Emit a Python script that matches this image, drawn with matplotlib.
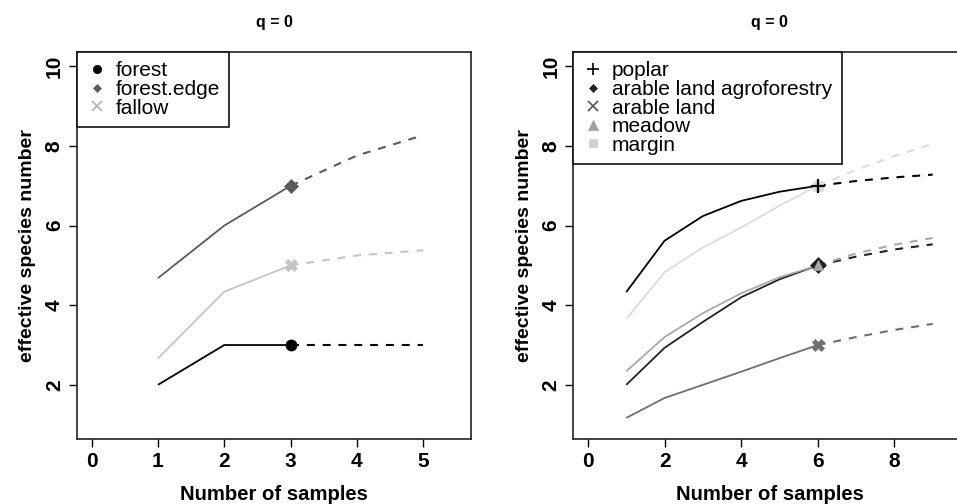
import matplotlib
matplotlib.use("Agg")
import matplotlib.pyplot as plt
from matplotlib.lines import Line2D

plt.rcParams['font.family'] = ['Liberation Sans', 'DejaVu Sans']

# ---------------- data ----------------
# left panel
left_names = ["forest", "forest.edge", "fallow"]
left_x_obs = [1, 2, 3]
left_x_ext = [3, 4, 5]
forest_obs = [2.0, 3.0, 3.0]
forest_ext = [3.0, 3.0, 3.0]
edge_obs = [4.68, 6.0, 7.0]
edge_ext = [7.0, 7.76, 8.27]
fallow_obs = [2.66, 4.34, 5.0]
fallow_ext = [5.0, 5.25, 5.38]

# right panel
right_names = ["poplar", "arable land agroforestry", "arable land", "meadow", "margin"]
right_x_obs = [1, 2, 3, 4, 5, 6]
right_x_ext = [6, 7, 8, 9]
poplar_obs = [4.33, 5.62, 6.24, 6.62, 6.85, 7.0]
poplar_ext = [7.0, 7.12, 7.21, 7.28]
agro_obs = [2.0, 2.93, 3.58, 4.2, 4.65, 5.0]
agro_ext = [5.0, 5.22, 5.4, 5.53]
arable_obs = [1.17, 1.67, 2.0, 2.33, 2.67, 3.0]
arable_ext = [3.0, 3.2, 3.38, 3.53]
meadow_obs = [2.34, 3.2, 3.8, 4.3, 4.7, 5.0]
meadow_ext = [5.0, 5.3, 5.52, 5.69]
margin_obs = [3.65, 4.83, 5.45, 5.95, 6.5, 7.0]
margin_ext = [7.0, 7.4, 7.75, 8.05]

x_ticks_left = [0, 1, 2, 3, 4, 5]
x_ticks_right = [0, 2, 4, 6, 8]
y_ticks = [2, 4, 6, 8, 10]

# ---------------- styles ----------------
# (obs, ext, colour, marker, marker size, marker zorder)
left_series = [
    (forest_obs, forest_ext, "#000000", "o", 8, 3),
    (edge_obs, edge_ext, "#5a5a5a", "D", 7, 3),
    (fallow_obs, fallow_ext, "#c4c4c4", "X", 9, 3),
]
right_series = [
    (poplar_obs, poplar_ext, "#000000", "+", 10, 3.5),
    (agro_obs, agro_ext, "#222222", "D", 8.5, 3),
    (arable_obs, arable_ext, "#6e6e6e", "X", 9, 3),
    (meadow_obs, meadow_ext, "#a8a8a8", "^", 6.5, 3.2),
    (margin_obs, margin_ext, "#dcdcdc", "s", 7, 3),
]
left_leg_markers = [("o", "#000000", 6), ("D", "#5a5a5a", 4.5), ("x", "#b0b0b0", 7)]
right_leg_markers = [("+", "#000000", 9), ("D", "#222222", 4.5), ("x", "#555555", 7),
                     ("^", "#a0a0a0", 6.5), ("s", "#d0d0d0", 5.5)]

W, H = 957, 504
fig = plt.figure(figsize=(W / 100, H / 100), dpi=100)

def px_axes(x0, x1, y0, y1):
    return fig.add_axes([x0 / W, 1 - y1 / H, (x1 - x0) / W, (y1 - y0) / H])

axL = px_axes(77, 471, 52, 439)
axR = px_axes(573.4, 966.4, 52, 439)

lw = 1.3
dash = (0, (3.8, 3.8))

def draw(ax, xobs, xext, series, xlim, xticks, names, legmarkers):
    for obs, ext, col, mk, ms, z in series:
        ax.plot(xobs, obs, color=col, lw=lw, solid_capstyle='butt', zorder=2)
        ax.plot(xext, ext, color=col, lw=lw + 0.2, linestyle=dash, zorder=2)
    for obs, ext, col, mk, ms, z in series:
        ax.plot([xobs[-1]], [obs[-1]], marker=mk, color=col, ms=ms,
                markeredgewidth=1.6 if mk == '+' else 0.5,
                linestyle='none', zorder=z)
    ax.set_xlim(*xlim)
    ax.set_ylim(0.64, 10.36)
    ax.set_xticks(xticks)
    ax.set_yticks(y_ticks)
    ax.tick_params(axis='both', direction='out', length=5.5, width=1.0,
                   labelsize=15, pad=4)
    for lab in ax.get_xticklabels() + ax.get_yticklabels():
        lab.set_fontweight('bold')
    for lab in ax.get_yticklabels():
        lab.set_rotation(90)
        lab.set_va('center')
    for sp in ax.spines.values():
        sp.set_linewidth(1.2)
        sp.set_color('#222222')
    ax.set_xlabel("Number of samples", fontsize=14.6, fontweight='bold', labelpad=10)
    ax.set_ylabel("effective species number", fontsize=14, fontweight='bold', labelpad=6)
    ax.set_title("q = 0", fontsize=11.5, fontweight='bold', pad=18)
    handles = [Line2D([], [], marker=m, color=c, ms=s, linestyle='none',
                      markeredgewidth=1.2 if m in ('x', '+') else 0.5)
               for m, c, s in legmarkers]
    leg = ax.legend(handles, names, loc='upper left', bbox_to_anchor=(0, 1),
                    borderaxespad=0, fontsize=15, frameon=True, fancybox=False,
                    edgecolor='#111111', framealpha=1, labelspacing=-0.02,
                    handlelength=1.0, handletextpad=0.4, borderpad=0.45)
    leg.get_frame().set_linewidth(1.2)

draw(axL, left_x_obs, left_x_ext, left_series, (-0.22, 5.72), x_ticks_left,
     left_names, left_leg_markers)
draw(axR, right_x_obs, right_x_ext, right_series, (-0.38, 9.88), x_ticks_right,
     right_names, right_leg_markers)

fig.savefig("out.png", dpi=100)
